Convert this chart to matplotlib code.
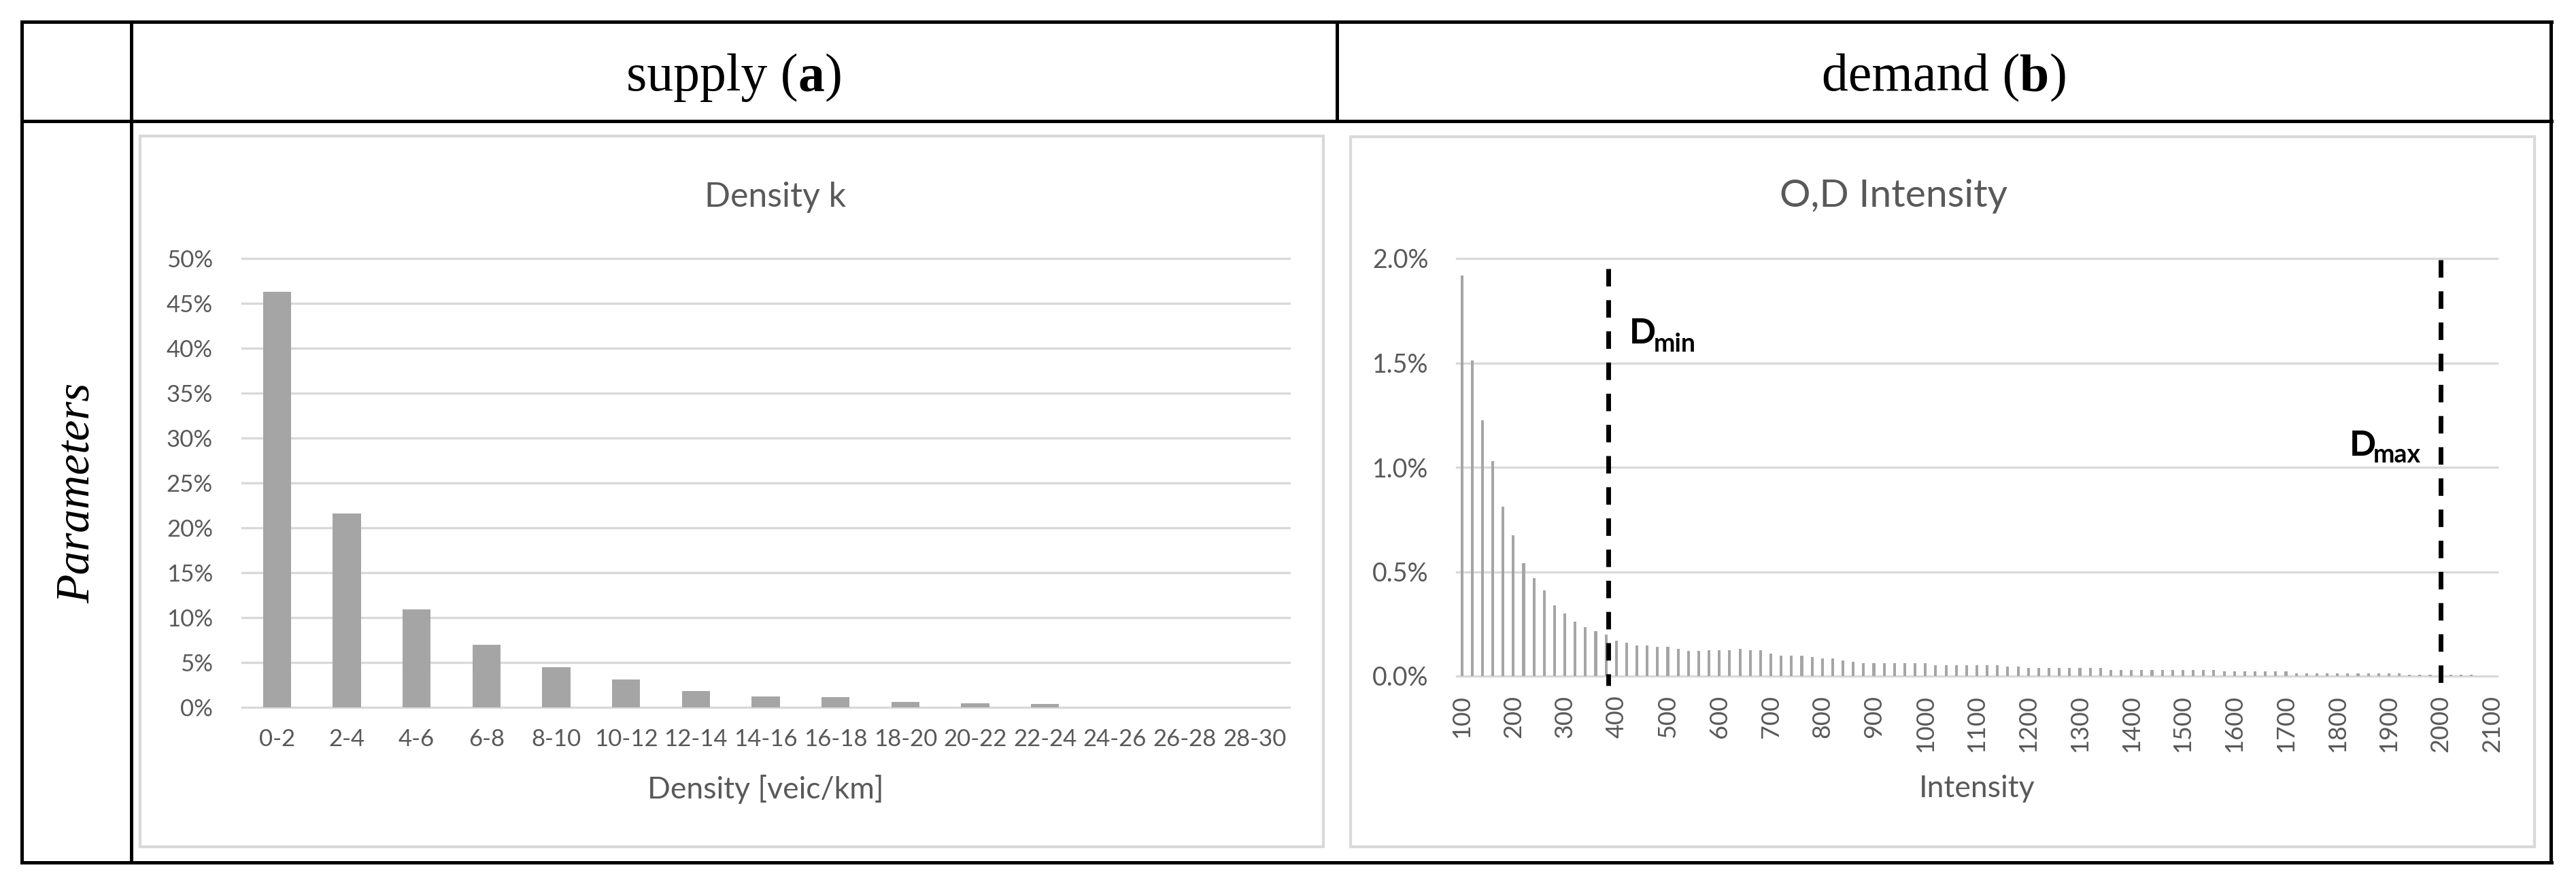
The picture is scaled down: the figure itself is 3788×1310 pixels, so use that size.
import matplotlib

matplotlib.use("Agg")
import matplotlib.pyplot as plt
from matplotlib.patches import Rectangle
from matplotlib.ticker import FuncFormatter

W, H = 3788, 1310
DPI = 100

# supply (a): share of links per density class
density_bins = ["0-2", "2-4", "4-6", "6-8", "8-10", "10-12", "12-14", "14-16",
                "16-18", "18-20", "20-22", "22-24", "24-26", "26-28", "28-30"]
density_share = [46.3, 21.6, 10.9, 7.0, 4.45, 3.1, 1.85, 1.2, 1.1, 0.6, 0.45, 0.4,
                 0.0, 0.0, 0.0]

# demand (b): share of O/D pairs per intensity class (step 20)
intensity_bins = list(range(100, 2101, 20))
intensity_share = [
    1.92, 1.51, 1.225, 1.03, 0.81, 0.675, 0.54, 0.47, 0.41, 0.34,
    0.30, 0.26, 0.235, 0.215, 0.20, 0.17, 0.16, 0.148, 0.148, 0.14,
    0.14, 0.13, 0.122, 0.122, 0.123, 0.123, 0.123, 0.13, 0.123, 0.123,
    0.106, 0.099, 0.099, 0.099, 0.092, 0.085, 0.085, 0.076, 0.068, 0.061,
    0.061, 0.061, 0.061, 0.061, 0.061, 0.061, 0.053, 0.053, 0.053, 0.053,
    0.053, 0.053, 0.053, 0.046, 0.046, 0.038, 0.038, 0.038, 0.038, 0.038,
    0.038, 0.038, 0.038, 0.029, 0.029, 0.029, 0.029, 0.029, 0.029, 0.029,
    0.029, 0.029, 0.029, 0.029, 0.022, 0.022, 0.022, 0.022, 0.022, 0.022,
    0.022, 0.013, 0.013, 0.013, 0.013, 0.013, 0.013, 0.013, 0.013, 0.013,
    0.013, 0.013, 0.008, 0.008, 0.008, 0.008, 0.008, 0.008, 0.008, 0.0,
    0.0,
]
intensity_ticks = list(range(100, 2101, 100))
d_min = 385
d_max = 2000

TXT = "#595959"
GRID = "#d9d9d9"
BAR = "#a5a5a5"
SERIF = "Liberation Serif"

plt.rcParams["font.family"] = ["Lato", "DejaVu Sans"]

fig = plt.figure(figsize=(W / DPI, H / DPI), dpi=DPI)
bg = fig.add_axes([0, 0, 1, 1])
bg.set_xlim(0, W)
bg.set_ylim(H, 0)
bg.axis("off")


def px_box(x0, y0, x1, y1):
    return [x0 / W, 1 - y1 / H, (x1 - x0) / W, (y1 - y0) / H]


def rich_text(ax, x, y, pieces, center=True):
    renderer = fig.canvas.get_renderer()
    texts = []
    for s, kw in pieces:
        texts.append(ax.text(0, y, s, ha="left", va="baseline", **kw))
    widths = [t.get_window_extent(renderer).width for t in texts]
    start = x - sum(widths) / 2 if center else x
    for t, w in zip(texts, widths):
        t.set_x(start)
        start += w


# table frame
tab = dict(color="black", lw=3.6, solid_capstyle="projecting")
bg.plot([32, 3752], [32, 32], **tab)
bg.plot([32, 3752], [1268, 1268], **tab)
bg.plot([32, 3752], [178, 178], **tab)
bg.plot([32, 32], [32, 1268], **tab)
bg.plot([3751, 3751], [32, 1268], **tab)
bg.plot([193, 193], [32, 1268], **tab)
bg.plot([1966, 1966], [32, 178], **tab)

head = dict(family=SERIF, fontsize=56, color="black")
rich_text(bg, 1080, 133, [("supply (", head), ("a", dict(head, weight="bold")), (")", head)])
rich_text(bg, 2859, 133, [("demand (", head), ("b", dict(head, weight="bold")), (")", head)])
bg.text(114, 725, "Parameters", family=SERIF, style="italic", fontsize=50,
        rotation=90, ha="center", va="center")

# excel chart areas
bg.add_patch(Rectangle((206, 200), 1740, 1045, fill=False, ec=GRID, lw=3))
bg.add_patch(Rectangle((1986, 201), 1741, 1044, fill=False, ec=GRID, lw=3))


def style_axes(ax, labelsize, ypad):
    ax.patch.set_visible(False)
    for s in ax.spines.values():
        s.set_visible(False)
    ax.set_axisbelow(True)
    ax.grid(axis="y", color=GRID, lw=2.4)
    ax.grid(axis="x", visible=False)
    ax.tick_params(length=0, labelsize=labelsize, labelcolor=TXT)
    ax.tick_params(axis="y", pad=ypad)
    for g in ax.get_ygridlines():
        g.set_clip_on(False)


# left: density
axL = fig.add_axes(px_box(356, 380, 1896, 1040))
axL.bar(range(len(density_bins)), density_share, width=0.4, color=BAR)
axL.set_xlim(-0.5, len(density_bins) - 0.5)
axL.set_ylim(0, 50)
axL.set_yticks(range(0, 51, 5))
axL.yaxis.set_major_formatter(FuncFormatter(lambda v, _: f"{v:.0f}%"))
axL.set_xticks(range(len(density_bins)), density_bins)
style_axes(axL, 25, 31)
axL.tick_params(axis="x", pad=22)
axL.set_title("Density k", fontsize=36, color=TXT, pad=55, x=0.509)
axL.set_xlabel("Density [veic/km]", fontsize=32, color=TXT)
axL.xaxis.set_label_coords(0.5, -0.182)
axL.xaxis.label.set_va("center")

# right: O,D intensity
axR = fig.add_axes(px_box(2142, 380, 3672, 994))
axR.bar(range(len(intensity_bins)), intensity_share, width=0.27, color=BAR)
axR.set_xlim(-0.5, len(intensity_bins) - 0.5)
axR.set_ylim(0, 2.0)
axR.set_yticks([0, 0.5, 1.0, 1.5, 2.0])
axR.yaxis.set_major_formatter(FuncFormatter(lambda v, _: f"{v:.1f}%"))
axR.set_xticks([intensity_bins.index(t) for t in intensity_ticks],
               [str(t) for t in intensity_ticks], rotation=90)
style_axes(axR, 27, 30)
axR.tick_params(axis="x", pad=20, labelsize=26)
axR.set_title("O,D Intensity", fontsize=41, color=TXT, pad=55, x=0.42)
axR.set_xlabel("Intensity", fontsize=32, color=TXT)
axR.xaxis.set_label_coords(0.5, -0.27)
axR.xaxis.label.set_va("center")

x_min = (d_min - intensity_bins[0]) / 20
x_max = (d_max - intensity_bins[0]) / 20
axR.plot([x_min, x_min], [1.95, -0.045], color="black", lw=5, dashes=(3.7, 2.9),
         clip_on=False)
axR.plot([x_max, x_max], [1.995, -0.08], color="black", lw=5, dashes=(3.7, 2.9),
         clip_on=False)

lab = dict(color="black", weight="bold")
rich_text(bg, 2396, 505, [("D", dict(lab, fontsize=37))], center=False)
rich_text(bg, 2432, 517, [("min", dict(lab, fontsize=27))], center=False)
rich_text(bg, 3455, 670, [("D", dict(lab, fontsize=37))], center=False)
rich_text(bg, 3490, 680, [("max", dict(lab, fontsize=27))], center=False)

fig.savefig("out.png", dpi=DPI)
